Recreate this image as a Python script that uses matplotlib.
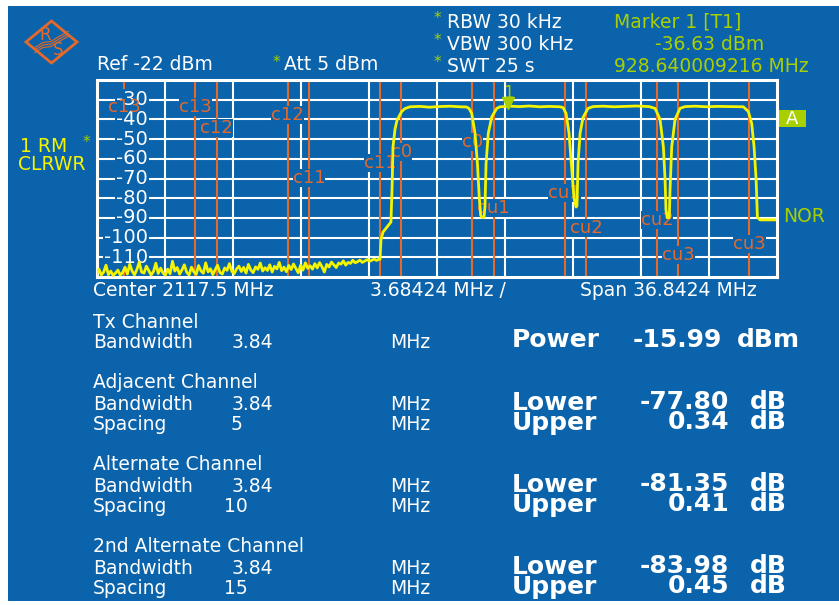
import matplotlib
matplotlib.use('Agg')
import matplotlib.pyplot as plt
from matplotlib.patches import Rectangle, Polygon
import numpy as np

BLUE = '#0b63ab'
ORANGE = '#e4692a'
YELLOW = '#f4f400'
GREEN = '#a8d000'
WHITE = 'white'

# analyzer settings
center_mhz = 2117.5
span_mhz = 36.8424
level_top, level_bottom = -20, -120
level_ticks = [-30, -40, -50, -60, -70, -80, -90, -100, -110]

# ACP channels (offset from center, MHz)
ch_names = ['c13', 'c12', 'c11', 'c0', 'cu1', 'cu2', 'cu3']
ch_offsets = [-15, -10, -5, 0, 5, 10, 15]
ch_bw = 3.84

# trace: noise floor left of the carriers (dBm)
noise_start, noise_stop = -18.42, -3.13
noise_dbm = [
    -118.5, -116.0, -119.0, -117.5, -114.0, -118.8, -117.0, -119.2, -118.0, -116.5,
    -119.0, -117.8, -115.0, -118.5, -113.5, -117.0, -118.9, -116.2, -112.5, -117.5,
    -118.0, -114.5, -116.8, -119.0, -117.2, -113.0, -118.2, -115.5, -117.9, -119.1,
    -116.0, -118.4, -112.0, -117.0, -115.2, -118.6, -116.4, -113.8, -117.6, -119.0,
    -115.0, -117.3, -118.7, -114.2, -116.9, -118.1, -112.8, -117.4, -115.8, -118.8,
    -116.3, -114.0, -117.7, -118.5, -115.4, -116.6, -113.2, -117.1, -118.3, -115.9,
    -114.5, -117.2, -115.1, -118.0, -113.6, -116.4, -117.8, -114.9, -116.1, -112.9,
    -117.0, -115.3, -116.7, -113.8, -117.5, -114.6, -115.9, -112.6, -116.8, -115.0,
    -117.3, -114.1, -116.2, -113.4, -115.7, -117.9, -114.0, -116.5, -112.8, -115.6,
    -114.3, -116.0, -113.2, -115.4, -112.7, -114.8, -117.5, -113.6, -114.9, -112.4,
    -113.8, -115.2, -112.9, -113.5, -111.8, -114.0, -112.6, -113.1, -111.5, -112.8,
    -112.2, -111.4, -112.6, -111.9, -111.2, -112.0, -111.5, -110.9, -111.6, -111.0,
]

# trace: carriers (MHz offset, dBm)
carrier_mhz = [
    -3.07, -3.02, -2.91, -2.48, -2.42, -2.37, -2.26, -2.15, -1.90, -1.72,
    -1.45, -0.91, -0.40, 0.10, 0.72, 1.26, 1.62, 1.75, 1.89, 2.07,
    2.20, 2.30, 2.38, 2.45, 2.56, 2.61, 2.67, 2.79, 2.98, 3.25,
    3.42, 3.97, 4.50, 5.00, 5.59, 6.10, 6.67, 6.84, 7.00, 7.16,
    7.31, 7.43, 7.54, 7.59, 7.65, 7.76, 7.92, 8.19, 8.46, 9.00,
    9.60, 10.19, 10.80, 11.50, 11.82, 12.09, 12.27, 12.36, 12.41, 12.48,
    12.59, 12.63, 12.72, 12.90, 13.17, 13.44, 14.00, 14.60, 15.20, 15.88,
    16.60, 16.87, 17.05, 17.18, 17.29, 17.36, 17.50, 18.30,
]
carrier_dbm = [
    -111.0, -101.0, -97.2, -92.1, -75.0, -54.0, -45.0, -40.4, -36.0, -34.5,
    -33.6, -33.4, -33.8, -33.5, -33.3, -33.6, -33.7, -34.5, -36.9, -47.0,
    -62.0, -79.4, -88.7, -89.8, -89.6, -84.5, -62.4, -47.0, -38.7, -34.4,
    -33.6, -33.3, -33.5, -33.2, -33.6, -33.4, -33.6, -34.0, -37.0, -47.0,
    -65.0, -80.0, -84.5, -84.0, -62.0, -47.0, -39.0, -34.4, -33.5, -33.3,
    -33.6, -33.4, -33.2, -33.5, -34.4, -40.0, -54.0, -70.5, -86.0, -90.0,
    -89.8, -76.0, -54.0, -40.0, -34.4, -33.5, -33.3, -33.6, -33.4, -33.5,
    -33.6, -36.0, -42.0, -54.0, -70.5, -89.6, -91.0, -91.0,
]

marker_mhz, marker_dbm = 3.86, -33.0

# ACP table
sections = ['Tx Channel', 'Adjacent Channel', 'Alternate Channel', '2nd Alternate Channel']
spacings = ['5', '10', '15']
lower_db = ['-77.80', '-81.35', '-83.98']
upper_db = ['0.34', '0.41', '0.45']
tx_power = '-15.99'

# label levels for channel line labels (left line, right line), layout only
lab_left = [-33.7, -44.4, -69.9, -56.6, -85.1, -95.3, -109.0]
lab_right = [-33.7, -37.8, -62.2, -51.6, -77.5, -91.2, -103.0]

fig = plt.figure(figsize=(8.39, 6.05), dpi=100)
fig.patch.set_facecolor('white')

bg = fig.add_axes([0, 0, 1, 1], zorder=0)
bg.set_xlim(0, 839)
bg.set_ylim(605, 0)
bg.axis('off')
bg.add_patch(Rectangle((8, 6), 831, 595, facecolor=BLUE, edgecolor='none'))


def put(x, y, s, color=WHITE, size=13.5, weight='normal', ha='left'):
    bg.text(x, y, s, color=color, fontsize=size, fontweight=weight,
            ha=ha, va='center')


# R&S logo
bg.add_patch(Polygon([(26, 42), (51.5, 21), (77, 42), (51.5, 63)], closed=True,
                     fill=False, edgecolor=ORANGE, lw=2))
for dy in (-2.5, 0, 2.5):
    bg.plot([35, 43, 51, 59, 68], [50 + dy, 45 + dy, 44 + dy, 39 + dy, 34 + dy],
            color=ORANGE, lw=0.8)
bg.text(45, 35, 'R', color=ORANGE, fontsize=12, ha='center', va='center')
bg.text(58, 50, 'S', color=ORANGE, fontsize=12, ha='center', va='center')

# header
put(97, 65, 'Ref -22 dBm')
put(273, 62, '*', GREEN, 11)
put(284, 65, 'Att 5 dBm')
for y, s in [(22, 'RBW 30 kHz'), (44, 'VBW 300 kHz'), (66, 'SWT 25 s')]:
    put(434, y - 3, '*', GREEN, 11)
    put(447, y, s)
put(614, 22, 'Marker 1 [T1]', GREEN)
put(655, 44, '-36.63 dBm', GREEN)
put(614, 66, '928.640009216 MHz', GREEN)

put(20, 147, '1 RM', YELLOW)
put(83, 143, '*', GREEN, 11)
put(18, 165, 'CLRWR', YELLOW)

bg.add_patch(Rectangle((778, 110), 28, 17, facecolor=GREEN, edgecolor='none'))
put(792, 118.5, 'A', WHITE, 13, ha='center')
put(783, 217, 'NOR', GREEN)

put(93, 290, f'Center {center_mhz} MHz')
put(370, 290, f'{span_mhz / 10:.5f} MHz /')
put(580, 290, f'Span {span_mhz} MHz')

# table
put(93, 322, sections[0])
put(93, 342, 'Bandwidth')
put(232, 342, f'{ch_bw}')
put(390, 342, 'MHz')
put(512, 340, 'Power', size=18, weight='bold')
put(633, 340, tx_power, size=18, weight='bold')
put(737, 340, 'dBm', size=18, weight='bold')
for i in range(3):
    y0 = 383 + 82 * i
    put(93, y0, sections[i + 1])
    put(93, y0 + 21, 'Bandwidth')
    put(232, y0 + 21, f'{ch_bw}')
    put(390, y0 + 21, 'MHz')
    put(93, y0 + 41, 'Spacing')
    put(236, y0 + 41, spacings[i], ha='center')
    put(390, y0 + 41, 'MHz')
    put(512, y0 + 20, 'Lower', size=18, weight='bold')
    put(640, y0 + 19, lower_db[i], size=18, weight='bold')
    put(750, y0 + 19, 'dB', size=18, weight='bold')
    put(512, y0 + 40, 'Upper', size=18, weight='bold')
    put(668, y0 + 39, upper_db[i], size=18, weight='bold')
    put(750, y0 + 39, 'dB', size=18, weight='bold')

# spectrum display
ax = fig.add_axes([96.5 / 839, 1 - 277 / 605, 680.5 / 839, 197 / 605], zorder=1)
ax.set_facecolor(BLUE)
half = span_mhz / 2
ax.set_xlim(-half, half)
ax.set_ylim(level_bottom, level_top)
ax.set_xticks([-half + k * span_mhz / 10 for k in range(1, 10)])
ax.set_yticks(level_ticks)
ax.tick_params(length=0, labelbottom=False, labelleft=False)
ax.grid(True, color=WHITE, lw=1.5, zorder=0.5)
ax.set_axisbelow(True)
for sp in ax.spines.values():
    sp.set_color(WHITE)
    sp.set_linewidth(2.2)

for v in level_ticks:
    ax.text(0.0757, v, f'{v}', transform=ax.get_yaxis_transform(), color=WHITE,
            fontsize=14, ha='right', va='center', zorder=2,
            bbox=dict(boxstyle='square,pad=0.05', fc=BLUE, ec='none'))

for name, off, yl, yr in zip(ch_names, ch_offsets, lab_left, lab_right):
    for edge, yy in ((off - ch_bw / 2, yl), (off + ch_bw / 2, yr)):
        ax.axvline(edge, color=ORANGE, lw=1.5, zorder=1)
        # the leftmost label sits over the level labels, so no backing there
        box = None if edge < -half + 3 else dict(boxstyle='square,pad=0.0', fc=BLUE, ec='none')
        ax.text(edge, yy, name, color=ORANGE, fontsize=13, ha='center',
                va='center', zorder=2.5, bbox=box)

noise_mhz = np.linspace(noise_start, noise_stop, len(noise_dbm))
trace_x = np.concatenate([noise_mhz, carrier_mhz])
trace_y = np.concatenate([noise_dbm, carrier_dbm])
ax.plot(trace_x, trace_y, color=YELLOW, lw=2.0, zorder=3)

ax.plot(marker_mhz, marker_dbm + 1.2, marker='v', color=GREEN, markersize=8, zorder=4)
ax.text(marker_mhz, marker_dbm + 6.5, '1', color=GREEN, fontsize=12,
        ha='center', va='center', zorder=4)

fig.savefig('out.png', dpi=100)
